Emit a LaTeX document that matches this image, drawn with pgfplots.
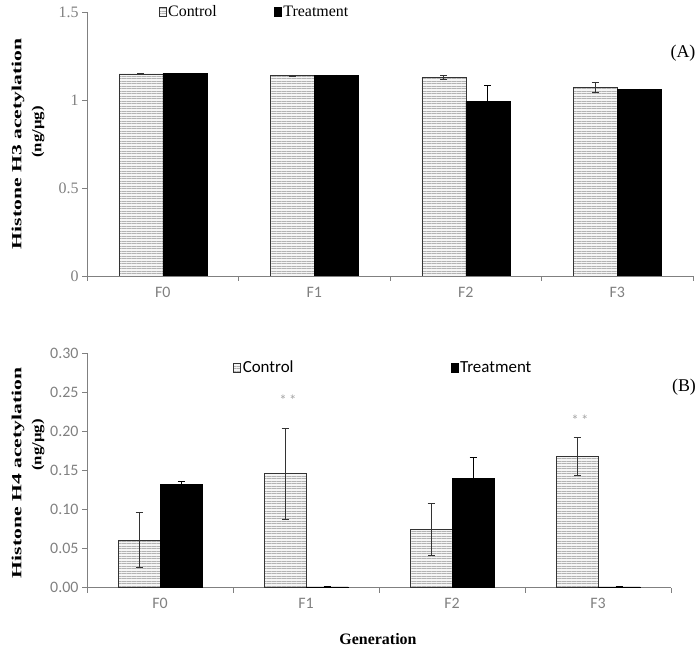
\documentclass[border=0pt]{standalone}
\usepackage{pgfplots}
\pgfplotsset{compat=1.18}
\usepackage{pgfplotstable}
\usepackage{fontspec}
\setmainfont{Liberation Serif}
\newfontfamily\carlito{Carlito}
\usetikzlibrary{patterns.meta}
\definecolor{axgray}{RGB}{128,128,128}

\pgfplotstableread{
x ctrl ctrlerr trt trterr
0 1.148 0.003 1.150 0.003
1 1.138 0.005 1.140 0.003
2 1.129 0.010 0.990 0.093
3 1.072 0.027 1.060 0.003
}\tabA

\pgfplotstableread{
x ctrl ctrlerr trt trterr
0 0.061 0.035 0.132 0.004
1 0.146 0.058 0.001 0.001
2 0.075 0.033 0.140 0.027
3 0.168 0.024 0.001 0.001
}\tabB

\pgfplotsset{
  mybars/.style={
    scale only axis,
    ybar=0pt,
    xmin=-0.5, xmax=3.5,
    ymin=0,
    axis x line*=bottom,
    axis y line*=left,
    axis line style={axgray, line width=0.6bp},
    tick align=outside,
    xtick={0,1,2,3},
    xticklabels={F0,F1,F2,F3},
    minor xtick={-0.5,0.5,1.5,2.5,3.5},
    major x tick style={draw=none},
    minor x tick style={draw=axgray, line width=0.6bp},
    minor tick length=5bp,
    major tick length=5bp,
    y tick style={draw=axgray, line width=0.6bp},
    ticklabel style={text=axgray},
    legend image code/.code={\draw[#1] (0bp,-4.5bp) rectangle (7bp,4.5bp);},
    legend style={draw=none, fill=none, legend columns=2,
      /tikz/every odd column/.append style={column sep=0bp}},
  },
  ctrlstyle/.style={draw=black!80, line width=0.5bp, fill=gray!8,
     postaction={pattern={Lines[angle=0,distance=2.5bp,line width=0.45bp]}, pattern color=gray!60},
     error bars/.cd, y dir=both, y explicit,
     error bar style={black!80, line width=0.6bp},
     error mark options={rotate=90, mark size=3.5bp, line width=0.6bp, black!80}},
  trtstyle/.style={draw=black, line width=0.5bp, fill=black,
     error bars/.cd, y dir=both, y explicit,
     error bar style={black, line width=0.6bp},
     error mark options={rotate=90, mark size=3.5bp, line width=0.6bp, black}},
}

\begin{document}
\begin{tikzpicture}[x=1bp,y=1bp]
\path[use as bounding box] (0,0) rectangle (700,651);

% ---------- Panel A ----------
\begin{axis}[mybars,
  at={(87bp,375bp)}, anchor=south west,
  width=606bp, height=264bp,
  bar width=44bp,
  ymax=1.5,
  ytick={0,0.5,1,1.5},
  yticklabels={0,0.5,1,1.5},
  yticklabel style={font=\fontsize{16}{18}\selectfont},
  xticklabel style={font=\carlito\fontsize{16}{18}\selectfont, yshift=-3bp},
  legend style={at={(0.113,1.0)}, anchor=west, font=\fontsize{16}{18}\selectfont,
     /tikz/every even column/.append style={column sep=55bp}},
]
\addplot[ctrlstyle] table[x=x, y=ctrl, y error=ctrlerr] {\tabA};
\addplot[trtstyle] table[x=x, y=trt, y error=trterr] {\tabA};
\legend{Control, Treatment}
\end{axis}

% ---------- Panel B ----------
\begin{axis}[mybars,
  at={(87bp,63.3bp)}, anchor=south west,
  width=584bp, height=234.4bp,
  bar width=42bp,
  ymax=0.30,
  ytick={0,0.05,0.10,0.15,0.20,0.25,0.30},
  yticklabels={0.00,0.05,0.10,0.15,0.20,0.25,0.30},
  yticklabel style={font=\carlito\fontsize{16}{18}\selectfont},
  xticklabel style={font=\carlito\fontsize{16}{18}\selectfont, yshift=-2bp},
  legend style={at={(0.245,0.94)}, anchor=west, font=\carlito\fontsize{17}{19}\selectfont,
     /tikz/every even column/.append style={column sep=155bp}},
]
\addplot[ctrlstyle] table[x=x, y=ctrl, y error=ctrlerr] {\tabB};
\addplot[trtstyle] table[x=x, y=trt, y error=trterr] {\tabB};
\legend{Control, Treatment}
\node[text=gray!70, font=\carlito\fontsize{15}{17}\selectfont, xshift=-18bp] at (axis cs:1,0.240) {*\,*};
\node[text=gray!70, font=\carlito\fontsize{15}{17}\selectfont, xshift=-18bp] at (axis cs:3,0.215) {*\,*};
\end{axis}

% ---------- Labels ----------
\node[rotate=90, font=\bfseries\fontsize{14}{16}\selectfont] at (18,507) {\scalebox{1.55}[1]{Histone H3 acetylation}};
\node[rotate=90, font=\bfseries\fontsize{14}{16}\selectfont] at (38,519) {\scalebox{1.2}[1]{(ng/\textmu g)}};
\node[rotate=90, font=\bfseries\fontsize{14}{16}\selectfont] at (18,178) {\scalebox{1.55}[1]{Histone H4 acetylation}};
\node[rotate=90, font=\bfseries\fontsize{14}{16}\selectfont] at (38,206) {\scalebox{1.2}[1]{(ng/\textmu g)}};
\node[font=\fontsize{18}{20}\selectfont] at (683,598) {(A)};
\node[font=\fontsize{18}{20}\selectfont] at (684,264) {(B)};
\node[font=\bfseries\fontsize{16}{18}\selectfont] at (378,12) {Generation};
\end{tikzpicture}
\end{document}
